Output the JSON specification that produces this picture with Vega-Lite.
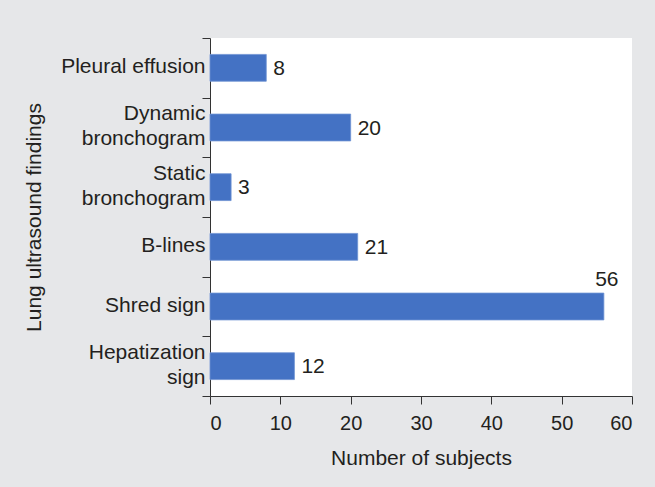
{
  "$schema": "https://vega.github.io/schema/vega-lite/v6.json",
  "width": 422,
  "height": 358,
  "autosize": {"type": "none"},
  "padding": {"left": 210, "top": 38, "right": 23, "bottom": 91},
  "background": "#e6e7e9",
  "config": {
    "view": {"fill": "white", "stroke": null},
    "font": "Liberation Sans",
    "axis": {
      "domainColor": "#333333",
      "tickColor": "#333333",
      "labelColor": "#231f20",
      "titleColor": "#231f20",
      "labelFont": "Liberation Sans",
      "titleFont": "Liberation Sans",
      "labelFontSize": 20,
      "titleFontSize": 21,
      "titleFontWeight": "normal",
      "grid": false
    }
  },
  "data": {
    "values": [
      {"finding": "Pleural effusion", "count": 8},
      {"finding": "Dynamic|bronchogram", "count": 20},
      {"finding": "Static|bronchogram", "count": 3},
      {"finding": "B-lines", "count": 21},
      {"finding": "Shred sign", "count": 56},
      {"finding": "Hepatization|sign", "count": 12}
    ]
  },
  "encoding": {
    "y": {
      "field": "finding",
      "type": "nominal",
      "sort": null,
      "scale": {"paddingInner": 0, "paddingOuter": 0},
      "axis": {
        "title": "Lung ultrasound findings",
        "labelExpr": "indexof(datum.label, '|') >= 0 ? [split(datum.label, '|')[0], '\u2800', split(datum.label, '|')[1]] : ['\u2800', datum.label]",
        "labelFontSize": 21,
        "labelLineHeight": 12.5,
        "labelBaseline": "middle",
        "labelOffset": -14,
        "tickBand": "extent",
        "tickSize": 8,
        "labelPadding": -3,
        "titlePadding": 16
      }
    },
    "x": {
      "field": "count",
      "type": "quantitative",
      "scale": {"domain": [0, 60], "nice": false},
      "axis": {
        "title": "Number of subjects",
        "values": [0, 10, 20, 30, 40, 50, 60],
        "tickSize": 8,
        "labelPadding": 9,
        "titlePadding": 14
      }
    }
  },
  "layer": [
    {"mark": {"type": "bar", "height": {"band": 0.45}, "color": "#4472c4", "stroke": "#6f93d3", "strokeWidth": 0.8}},
    {
      "transform": [{"filter": "datum.count < 50"}],
      "mark": {"type": "text", "align": "left", "baseline": "middle", "dx": 7, "dy": 1, "fontSize": 21, "color": "#231f20"},
      "encoding": {"text": {"field": "count", "type": "quantitative"}}
    },
    {
      "transform": [{"filter": "datum.count >= 50"}],
      "mark": {"type": "text", "align": "center", "baseline": "alphabetic", "dx": 3, "dy": -21, "fontSize": 21, "color": "#231f20"},
      "encoding": {"text": {"field": "count", "type": "quantitative"}}
    }
  ]
}
